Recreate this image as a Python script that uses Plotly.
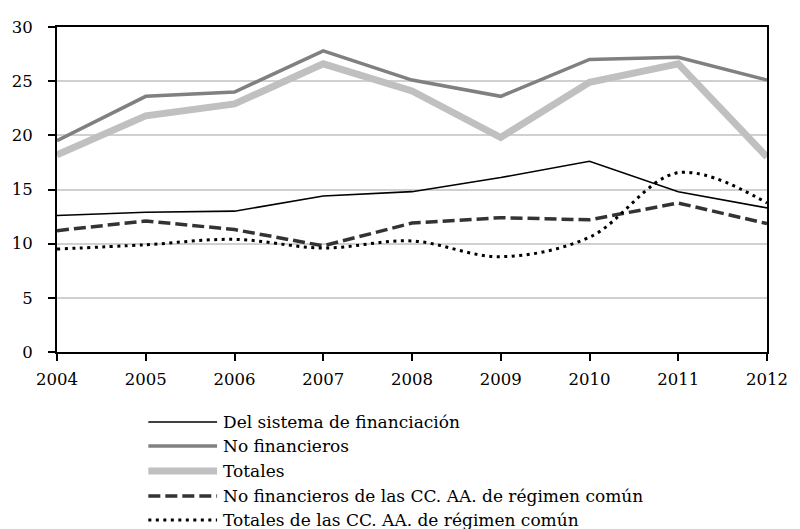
import plotly.graph_objects as go

# Años y series (porcentajes)
years = [2004, 2005, 2006, 2007, 2008, 2009, 2010, 2011, 2012]
del_sistema = [12.6, 12.9, 13.0, 14.4, 14.8, 16.1, 17.6, 14.8, 13.3]
no_financieros = [19.5, 23.6, 24.0, 27.8, 25.1, 23.6, 27.0, 27.2, 25.1]
totales = [18.2, 21.8, 22.9, 26.6, 24.1, 19.8, 24.9, 26.6, 18.0]
no_fin_ccaa = [11.2, 12.1, 11.3, 9.8, 11.9, 12.4, 12.2, 13.75, 11.85]
totales_ccaa = [9.5, 9.9, 10.4, 9.6, 10.25, 8.8, 10.6, 16.55, 13.75]

names = [
    "Del sistema de financiación",
    "No financieros",
    "Totales",
    "No financieros de las CC. AA. de régimen común",
    "Totales de las CC. AA. de régimen común",
]
y_ticks = [0, 5, 10, 15, 20, 25, 30]

FONT = "'DejaVu Serif', 'Liberation Serif', serif"
W, H = 800, 529
ML, MR, MT, MB = 55, 22, 27, 177
PW, PH = W - ML - MR, H - MT - MB

styles = [
    dict(color="#000000", width=1.6, dash="solid"),
    dict(color="#808080", width=3.5, dash="solid"),
    dict(color="#c0c0c0", width=7, dash="solid"),
    dict(color="#333333", width=3.5, dash="12px,5px"),
    dict(color="#000000", width=3, dash="3px,4.5px"),
]
series = [del_sistema, no_financieros, totales, no_fin_ccaa, totales_ccaa]
shapes_line = ["linear", "linear", "linear", "linear", "spline"]

fig = go.Figure()
# Draw thick light series first so thinner ones sit on top
order = [2, 1, 0, 3, 4]
for i in order:
    fig.add_trace(go.Scatter(
        x=years, y=series[i], name=names[i], mode="lines",
        line=dict(color=styles[i]["color"], width=styles[i]["width"],
                  dash=styles[i]["dash"], shape=shapes_line[i]),
        showlegend=False,
    ))

# Custom legend below the plot: line sample + label per row
def px_to_paper(xpx, ypx):
    return (xpx - ML) / PW, (H - MB - ypx) / PH

row_y = [422, 446, 471, 496, 520]
shapes = []
annotations = []
for i, ry in enumerate(row_y):
    x0, y0 = px_to_paper(148, ry)
    x1, _ = px_to_paper(218, ry)
    shapes.append(dict(
        type="line", xref="paper", yref="paper", x0=x0, x1=x1, y0=y0, y1=y0,
        line=dict(color=styles[i]["color"], width=styles[i]["width"],
                  dash=styles[i]["dash"]),
    ))
    tx, ty = px_to_paper(222, ry)
    annotations.append(dict(
        xref="paper", yref="paper", x=tx, y=ty, text=names[i],
        showarrow=False, xanchor="left", yanchor="middle",
        font=dict(family=FONT, size=17, color="#000000"),
    ))

fig.update_layout(
    width=W, height=H,
    margin=dict(l=ML, r=MR, t=MT, b=MB, pad=0),
    paper_bgcolor="white", plot_bgcolor="white",
    font=dict(family=FONT, size=16.5, color="#000000"),
    shapes=shapes, annotations=annotations,
    showlegend=False,
)
fig.update_xaxes(
    range=[2004, 2012], tickmode="array", tickvals=years,
    ticktext=[str(y) for y in years],
    showgrid=False, zeroline=False,
    showline=True, linecolor="black", linewidth=2, mirror=True,
    ticks="outside", ticklen=7, tickwidth=1.5, tickcolor="black",
    ticklabelstandoff=4,
    tickfont=dict(family=FONT, size=16.5),
)
fig.update_yaxes(
    range=[0, 30], tickmode="array", tickvals=y_ticks,
    showgrid=True, gridcolor="#d0d0d0", gridwidth=1.5, zeroline=False,
    showline=True, linecolor="black", linewidth=2, mirror=True,
    ticks="outside", ticklen=7, tickwidth=1.5, tickcolor="black",
    ticklabelstandoff=12,
    tickfont=dict(family=FONT, size=16.5),
)

fig.write_html("out.html")
